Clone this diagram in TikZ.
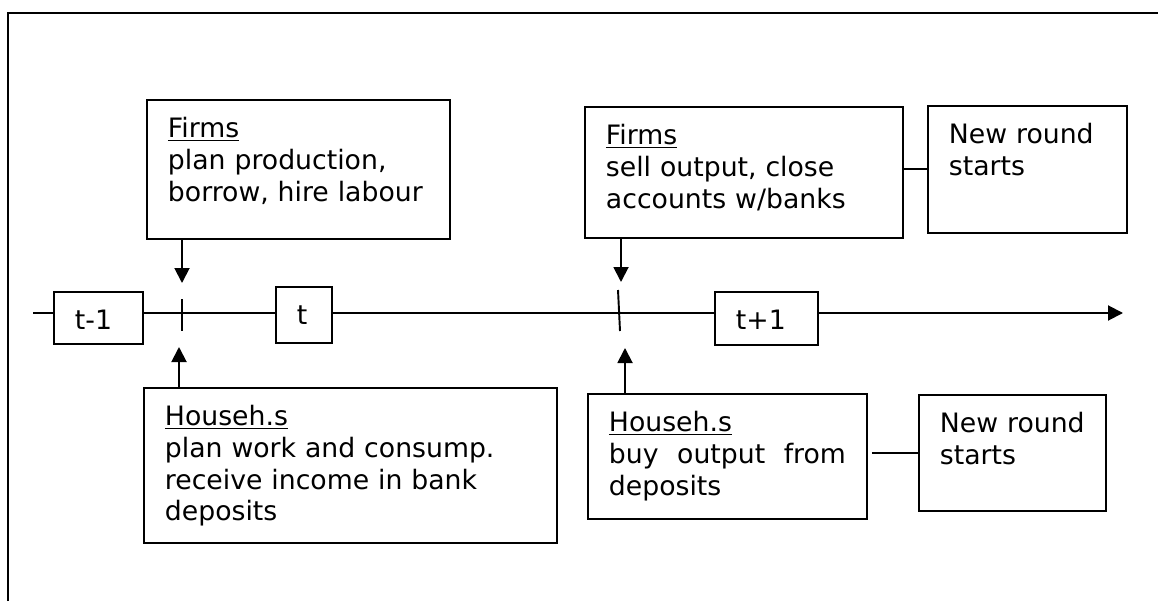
\documentclass[tikz,border=0pt]{standalone}
\usepackage{fontspec}
\setmainfont{DejaVu Sans}
\usetikzlibrary{arrows.meta,calc}
\tikzset{
  card/.style={draw, fill=white, line width=1.1pt, anchor=north west, inner xsep=0.42cm, inner ysep=0pt, text height=0.76cm, align=left, font=\fontsize{15.2}{18}\selectfont},
  tip/.style={-{Triangle[length=0.3cm,width=0.3cm]}, line width=1.1pt}
}

\begin{document}
\begin{tikzpicture}[x=0.02cm, y=-0.02cm]
	%%%%% START %%%%%
	\useasboundingbox (0,0) rectangle (1158,601);
	\draw[line width=1.5pt] (8,601) -- (8,13) -- (1158,13);
	
	\coordinate (start) at (33,313);
	\coordinate (end) at (1123,313);
	\draw[tip] (start) -- (end);
	
	\node[card, text width=0.94cm, text depth=0.28cm] (tprev) at (53,291) {t-1};
	\node[card, text width=0.28cm, text depth=0.36cm] (tnow) at (275,286) {t};
	\node[card, text width=1.22cm, text depth=0.3cm] (tnext) at (714,291) {t+1};
	
	\node[card, text width=5.22cm, text depth=2.02cm] (firmsA) at (146,99) {\underline{Firms}\\plan production,\\borrow, hire labour};
	\node[card, text width=5.52cm, text depth=1.86cm] (firmsB) at (584,106) {\underline{Firms}\\sell output, close\\accounts w/banks};
	\node[card, text width=3.14cm, text depth=1.78cm] (newA) at (927,105) {New~round\\starts};
	
	\node[card, text width=7.42cm, text depth=2.34cm] (househA) at (143,387) {\underline{Househ.s}\\plan work and consump.\\receive income in bank\\deposits};
	\node[card, text width=4.74cm, text depth=1.74cm] (househB) at (587,393) {\underline{Househ.s}\\buy\hfill output\hfill from\\deposits};
	\node[card, text width=2.9cm, text depth=1.56cm] (newB) at (918,394) {New~round\\starts};
	
	\coordinate (tickA) at (182,313);
	\coordinate (tickB) at (619,313);
	\draw[line width=1.1pt] ($(tickA)+(0,-14)$) -- ($(tickA)+(0,18)$);
	\draw[line width=1.1pt] ($(tickB)+(-1,-23)$) -- ($(tickB)+(1,18)$);
	
	\draw[tip] (firmsA.south -| tickA) -- ($(tickA)+(0,-30)$);
	\draw[tip] ($(househA.north -| tickA)+(-3,0)$) -- ($(tickA)+(-3,34)$);
	\draw[tip] ($(firmsB.south -| tickB)+(2,0)$) -- ($(tickB)+(2,-31)$);
	\draw[tip] ($(househB.north -| tickB)+(6,0)$) -- ($(tickB)+(6,35)$);
	
	\draw[line width=1.1pt] (firmsB.east |- newA.west) -- (newA.west);
	\draw[line width=1.1pt] ($(househB.east |- newB.west)+(4,0)$) -- (newB.west);
	%%%%% END %%%%%
\end{tikzpicture}
\end{document}
